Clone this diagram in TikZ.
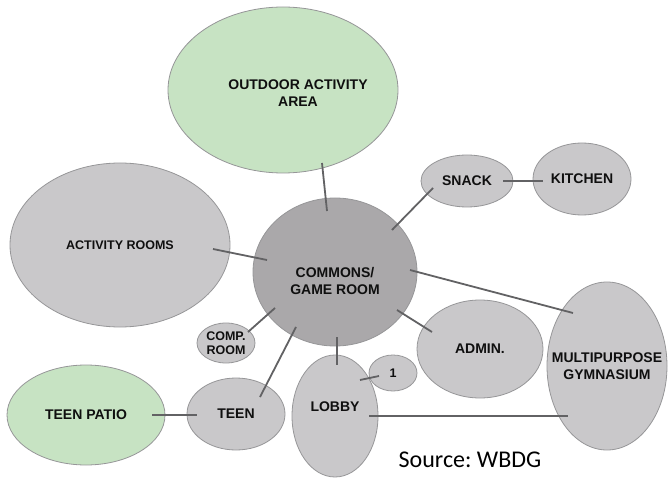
\documentclass[tikz,border=0pt]{standalone}
\usepackage{fontspec}
\setmainfont{Liberation Sans}
\newfontfamily\srcfont{Carlito}
\usetikzlibrary{shapes.geometric,calc}
\definecolor{vert}{RGB}{199,227,195}
\definecolor{gris}{RGB}{201,200,202}
\definecolor{grisfonce}{RGB}{170,168,170}
\definecolor{bord}{RGB}{150,150,152}
\definecolor{liaison}{RGB}{98,98,100}
\definecolor{texte}{RGB}{15,15,15}
\tikzset{
  zone/.style 2 args={ellipse, draw=bord, line width=0.8pt, fill=gris, inner sep=0pt,
    minimum width=#1, minimum height=#2},
  petit/.style={label={[font=\bfseries\fontsize{12.5}{14}\selectfont]center:{#1}}},
  nom/.style={label={center:{#1}}},
  every label/.style={align=center, text=texte, inner sep=0pt,
    font=\bfseries\fontsize{14}{17.5}\selectfont},
  link/.style={draw=liaison, line width=1.8pt}
}
\begin{document}
\begin{tikzpicture}[x=1pt, y=-1pt]
\useasboundingbox (0,0) rectangle (669,481);
% Zones
\node[zone={230pt}{166pt}, fill=vert,
  label={[xshift=15pt, yshift=-3pt]center:{OUTDOOR ACTIVITY\\AREA}}] (outdoor) at (283,90) {};
\node[zone={220pt}{164pt}, petit={ACTIVITY ROOMS}] (activity) at (120,245) {};
\node[zone={92pt}{52pt}, nom={SNACK}] (snack) at (467,181) {};
\node[zone={98pt}{72pt}, nom={KITCHEN}] (kitchen) at (582,179) {};
\node[zone={164pt}{148pt}, fill=grisfonce,
  label={[yshift=-9pt]center:{COMMONS/\\GAME ROOM}}] (commons) at (335,272) {};
\node[zone={58pt}{40pt}, petit={COMP.\\ROOM}] (comp) at (226,343) {};
\node[zone={158pt}{100pt}, fill=vert, nom={TEEN PATIO}] (patio) at (86,415) {};
\node[zone={98pt}{72pt}, nom={TEEN}] (teen) at (236,414) {};
\node[zone={86pt}{122pt}, label={[yshift=9pt]center:LOBBY}] (lobby) at (335,416) {};
\node[zone={48pt}{36pt}, petit={1}] (one) at (393,373) {};
\node[zone={126pt}{98pt}, nom={ADMIN.}] (admin) at (480,349) {};
\node[zone={120pt}{168pt}, nom={MULTIPURPOSE\\GYMNASIUM}] (gym) at (607,366) {};
% Liaisons
\draw[link] ($(outdoor)+(39,73)$) -- ($(commons)+(-8,-61)$);
\draw[link] ($(snack)+(-34,7)$) -- ($(commons)+(57,-42)$);
\draw[link] ($(snack)+(36,0)$) -- ($(kitchen)+(-39,2)$);
\draw[link] ($(activity)+(93,4)$) -- ($(commons)+(-68,-12)$);
\draw[link] ($(comp)+(22,-11)$) -- ($(commons)+(-60,36)$);
\draw[link] ($(teen)+(24,-17)$) -- ($(commons)+(-39,55)$);
\draw[link] ($(patio)+(66,0)$) -- ($(teen)+(-39,1)$);
\draw[link] ($(commons)+(75,-2)$) -- ($(gym)+(-34,-53)$);
\draw[link] ($(commons)+(62,38)$) -- ($(admin)+(-48,-17)$);
\draw[link] ($(commons)+(2,65)$) -- ($(lobby)+(2,-51)$);
\draw[link] ($(lobby)+(25,-36)$) -- ($(one)+(-14,3)$);
\draw[link] ($(lobby)+(34,0)$) -- ($(gym)+(-39,50)$);
% Source
\node[anchor=base, font=\srcfont\fontsize{24}{28}\selectfont] (source) at (470,467) {Source:\ WBDG};
\end{tikzpicture}
\end{document}
